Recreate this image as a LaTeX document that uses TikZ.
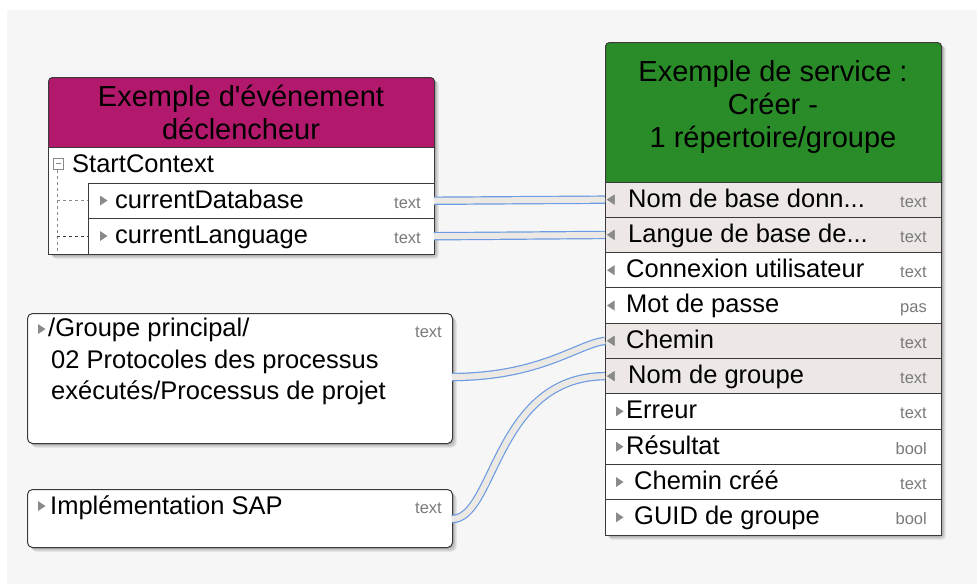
\documentclass[tikz,border=0pt]{standalone}
\usepackage{fontspec}
\setmainfont{Liberation Sans}
\definecolor{bgcol}{HTML}{F6F6F6}
\definecolor{evhead}{HTML}{B2186C}
\definecolor{svhead}{HTML}{2A8C28}
\definecolor{shade}{HTML}{EDE8E5}
\definecolor{bordercol}{HTML}{3A3A3A}
\definecolor{conblue}{HTML}{6B9BE2}
\definecolor{confill}{HTML}{ECE8E4}
\definecolor{tricol}{HTML}{8A8A8A}
\definecolor{typecol}{HTML}{7A7A7A}
\tikzset{
  rowbox/.style={draw=bordercol, line width=1pt, minimum width=336pt, minimum height=35.3pt,
    anchor=north west, inner sep=0pt, outer sep=0pt},
  evrowbox/.style={draw=bordercol, line width=1pt, minimum width=346pt, minimum height=35.5pt,
    anchor=north west, inner sep=0pt, outer sep=0pt, fill=white},
  rowtxt/.style={anchor=base west, inner sep=0pt, font=\fontsize{25.5}{30}\selectfont},
  typetxt/.style={anchor=base east, inner sep=0pt, text=typecol, font=\fontsize{16.5}{20}\selectfont},
  headtxt/.style={align=center, inner sep=0pt, font=\fontsize{29}{33}\selectfont},
  conn/.style={draw=conblue, line width=1.2pt, double=confill, double distance=6pt},
  tri/.style={fill=tricol, draw=none},
}
\newcommand\shadowrect[5]{% x1 y1 x2 y2 radius
  \foreach \o in {1.5,3,4.5}{
    \fill[black, opacity=0.11, rounded corners=#5] ({#1+\o},{#2+\o}) rectangle ({#3+\o},{#4+\o});
  }}
\newcommand\lefttri[2]{\fill[tri] (#1,#2) -- ({#1+7.5},{#2-5}) -- ({#1+7.5},{#2+5}) -- cycle;}
\newcommand\righttri[2]{\fill[tri] ({#1+7.5},#2) -- (#1,{#2-5}) -- (#1,{#2+5}) -- cycle;}
\newcommand\svrow[7]{% name, top, fill, label x, label, type, dir
  \node[rowbox, fill=#3] (#1) at (605,#2) {};
  \node[rowtxt] (#1-t) at (#4,{#2+25}) {#5};
  \node[typetxt] (#1-y) at (927,{#2+25}) {#6};
  \ifx l#7\lefttri{607}{#2+17.6}\else\righttri{616}{#2+17.6}\fi
}
\begin{document}
\begin{tikzpicture}[x=1pt,y=-1pt]
\useasboundingbox (0,0) rectangle (977,584);
\fill[bgcol] (7,10) rectangle (977,584);

% ---------- Event box ----------
\shadowrect{48}{77}{434}{254}{3pt}
\node[draw=bordercol, line width=1pt, fill=evhead, rounded corners=4pt, minimum width=386pt,
  minimum height=76pt, anchor=north west, inner sep=0pt] (evhead) at (48,77) {};
\node[draw=bordercol, line width=1pt, fill=white, minimum width=386pt, minimum height=107pt,
  anchor=north west, inner sep=0pt] (evbody) at (48,147) {};
\node[headtxt] (evtitle) at (241,112) {Exemple d\textquotesingle événement\\déclencheur};
\draw[draw=tricol, line width=0.8pt, fill=white] (53,158) rectangle (63,169);
\draw[tricol, line width=0.8pt] (55.5,163.5) -- (60.5,163.5);
\node[rowtxt] (startctx) at (72,172) {StartContext};
\draw[tricol, dashed, line width=0.8pt] (57,170) -- (57,253);
\draw[tricol, dashed, line width=0.8pt] (57,200.5) -- (88,200.5);
\draw[bordercol, dashed, line width=0.8pt] (57,236) -- (88,236);
\node[evrowbox] (evdb) at (88,183) {};
\node[evrowbox] (evlang) at (88,218.5) {};
\righttri{100}{200.5}
\righttri{100}{236}
\node[rowtxt] (evdb-t) at (115,208) {currentDatabase};
\node[typetxt] (evdb-y) at (421,208) {text};
\node[rowtxt] (evlang-t) at (115,243.5) {currentLanguage};
\node[typetxt] (evlang-y) at (421,243.5) {text};

% ---------- Service box ----------
\shadowrect{605}{42}{941}{535}{3pt}
\node[draw=bordercol, line width=1pt, fill=svhead, rounded corners=4pt, minimum width=336pt,
  minimum height=146pt, anchor=north west, inner sep=0pt] (svhead) at (605,42) {};
\node[headtxt] (svtitle) at (773,107) {Exemple de service :\\Créer -\\1 répertoire/groupe};
\svrow{r1}{182}{shade}{628}{Nom de base donn...}{text}{l}
\svrow{r2}{217.3}{shade}{628}{Langue de base de...}{text}{l}
\svrow{r3}{252.6}{white}{626}{Connexion utilisateur}{text}{l}
\svrow{r4}{287.9}{white}{626}{Mot de passe}{pas}{l}
\svrow{r5}{323.2}{shade}{626}{Chemin}{text}{l}
\svrow{r6}{358.5}{shade}{628}{Nom de groupe}{text}{l}
\svrow{r7}{393.8}{white}{626}{Erreur}{text}{r}
\svrow{r8}{429.1}{white}{626}{Résultat}{bool}{r}
\svrow{r9}{464.4}{white}{634}{Chemin créé}{text}{r}
\svrow{r10}{499.7}{white}{634}{GUID de groupe}{bool}{r}

% ---------- Text boxes ----------
\shadowrect{27}{313}{452}{443}{5pt}
\node[draw=bordercol, line width=1pt, fill=white, rounded corners=5pt, minimum width=425pt,
  minimum height=130pt, anchor=north west, inner sep=0pt] (tb1) at (27,313) {};
\righttri{38}{329}
\node[rowtxt, anchor=north west, align=left, font=\fontsize{25.5}{31.5}\selectfont] (tb1-t) at (48,318)
  {/Groupe principal/\\\hspace{3pt}02 Protocoles des processus\\\hspace{3pt}exécutés/Processus de projet};
\node[typetxt] (tb1-y) at (442,337) {text};

\shadowrect{27}{489}{452}{547}{5pt}
\node[draw=bordercol, line width=1pt, fill=white, rounded corners=5pt, minimum width=425pt,
  minimum height=58pt, anchor=north west, inner sep=0pt] (tb2) at (27,489) {};
\righttri{38}{506}
\node[rowtxt] (tb2-t) at (50,514) {Implémentation SAP};
\node[typetxt] (tb2-y) at (442,513) {text};

% ---------- Connectors ----------
\coordinate (c3s) at (452,377);
\coordinate (c4s) at (452,519);
\draw[conn] (evdb.east) -- (r1.west);
\draw[conn] (evlang.east) -- (r2.west);
\draw[conn] (c3s) .. controls (540,377) and (578,344) .. (r5.west);
\draw[conn] (c4s) .. controls (495,519) and (495,376.8) .. (r6.west);
\lefttri{607}{199.6}
\lefttri{607}{234.9}
\lefttri{607}{340.8}
\lefttri{607}{376.1}
\end{tikzpicture}
\end{document}
